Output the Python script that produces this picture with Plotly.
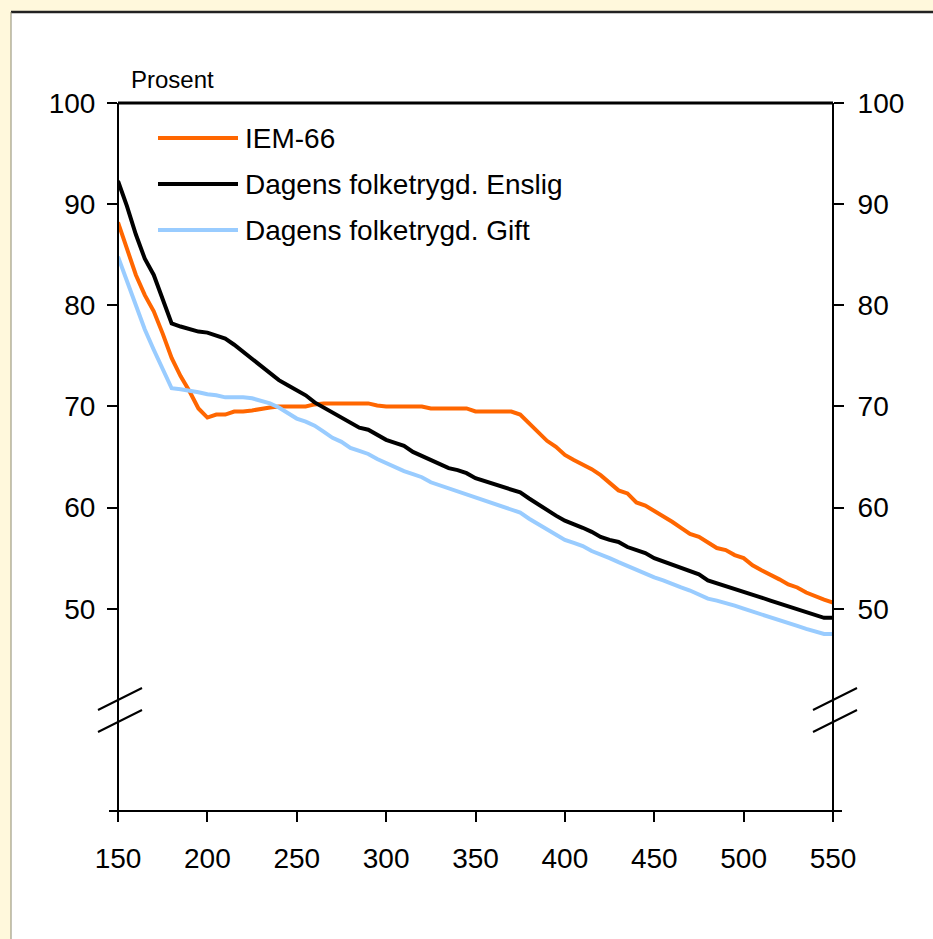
import plotly.graph_objects as go

x_vals = list(range(150, 551, 5))

iem66 = [88.2, 85.5, 83.0, 81.0, 79.4, 77.2, 74.8, 73.0, 71.5, 69.8,
         68.9, 69.2, 69.2, 69.5, 69.5, 69.6, 69.8, 69.9, 70.0, 70.0,
         70.0, 70.0, 70.2, 70.3, 70.3, 70.3, 70.3, 70.3, 70.3, 70.1,
         70.0, 70.0, 70.0, 70.0, 70.0, 69.8, 69.8, 69.8, 69.8, 69.8,
         69.5, 69.5, 69.5, 69.5, 69.5, 69.2, 68.3, 67.5, 66.6, 66.0,
         65.2, 64.7, 64.3, 63.8, 63.2, 62.4, 61.7, 61.4, 60.5, 60.2,
         59.7, 59.2, 58.6, 58.0, 57.4, 57.1, 56.5, 56.0, 55.8, 55.3,
         55.0, 54.3, 53.8, 53.4, 52.9, 52.4, 52.1, 51.6, 51.2, 50.9,
         50.6]

enslig = [92.3, 89.8, 87.0, 84.6, 83.0, 80.5, 78.2, 77.9, 77.6, 77.4,
          77.3, 77.0, 76.7, 76.1, 75.4, 74.7, 74.0, 73.3, 72.6, 72.1,
          71.6, 71.1, 70.4, 69.9, 69.3, 68.9, 68.4, 67.9, 67.7, 67.2,
          66.7, 66.4, 66.1, 65.5, 65.1, 64.8, 64.3, 63.9, 63.7, 63.4,
          62.9, 62.6, 62.3, 62.0, 61.8, 61.5, 60.9, 60.3, 59.7, 59.2,
          58.7, 58.4, 58.0, 57.6, 57.1, 56.8, 56.6, 56.1, 55.8, 55.5,
          55.0, 54.7, 54.4, 54.1, 53.8, 53.4, 52.8, 52.5, 52.2, 52.0,
          51.7, 51.4, 51.1, 50.8, 50.5, 50.2, 50.0, 49.7, 49.4, 49.1,
          49.1]

gift = [84.8, 82.4, 80.0, 77.6, 75.6, 73.8, 71.8, 71.7, 71.6, 71.4,
        71.2, 71.1, 70.9, 70.9, 70.9, 70.8, 70.6, 70.3, 69.9, 69.4,
        68.8, 68.5, 68.1, 67.5, 66.9, 66.5, 65.9, 65.6, 65.3, 64.8,
        64.4, 63.9, 63.6, 63.3, 63.0, 62.5, 62.2, 61.9, 61.6, 61.3,
        60.9, 60.6, 60.3, 60.0, 59.8, 59.5, 58.9, 58.4, 57.8, 57.3,
        56.8, 56.5, 56.2, 55.7, 55.4, 55.0, 54.6, 54.2, 53.9, 53.5,
        53.1, 52.8, 52.4, 52.1, 51.8, 51.4, 51.0, 50.8, 50.6, 50.3,
        50.0, 49.7, 49.4, 49.1, 48.8, 48.5, 48.3, 48.0, 47.7, 47.5,
        47.5]

series_names = ["IEM-66", "Dagens folketrygd. Enslig", "Dagens folketrygd. Gift"]
series_colors = ["#FF6600", "#000000", "#99CCFF"]
x_ticks = [150, 200, 250, 300, 350, 400, 450, 500, 550]
y_ticks = [50, 60, 70, 80, 90, 100]

FONT = "Liberation Sans, Arial, sans-serif"
FRAME_BG = "#FFF8DC"
W, H = 933, 939
# plot area in page pixels
L, R, T, B = 118, 833, 103, 811


def px(xp):
    return (xp - L) / (R - L)


def py(yp):
    return (B - yp) / (B - T)


fig = go.Figure()
for name, ys, col in zip(series_names, [iem66, enslig, gift], series_colors):
    fig.add_trace(go.Scatter(x=x_vals, y=ys, mode="lines", name=name,
                             line=dict(color=col, width=4), showlegend=False))
# invisible trace for right axis
fig.add_trace(go.Scatter(x=[x_vals[0]], y=[enslig[0]], yaxis="y2", mode="lines",
                         line=dict(width=0), showlegend=False, hoverinfo="skip"))

shapes = []
# frame background
shapes.append(dict(type="rect", xref="paper", yref="paper", x0=px(11), x1=px(950),
                   y0=py(12), y1=py(960), fillcolor="white", line=dict(width=0), layer="below"))
shapes.append(dict(type="line", xref="paper", yref="paper", x0=px(11), x1=px(950),
                   y0=py(12), y1=py(12), line=dict(color="#222222", width=2.5)))
shapes.append(dict(type="line", xref="paper", yref="paper", x0=px(11), x1=px(11),
                   y0=py(12), y1=py(960), line=dict(color="#8C8A70", width=1)))

ax = dict(color="black", width=2)
# axis lines with break
for xa in (L, R):
    shapes.append(dict(type="line", xref="paper", yref="paper", x0=px(xa), x1=px(xa),
                       y0=py(B), y1=py(700), line=ax))
    shapes.append(dict(type="line", xref="paper", yref="paper", x0=px(xa), x1=px(xa),
                       y0=py(722), y1=py(T), line=ax))
shapes.append(dict(type="line", xref="paper", yref="paper", x0=px(L), x1=px(R),
                   y0=py(T), y1=py(T), line=dict(color="black", width=3)))
shapes.append(dict(type="line", xref="paper", yref="paper", x0=px(109), x1=px(842),
                   y0=py(B), y1=py(B), line=ax))
# break marks
for xa in (L, R):
    for off in (0, 22):
        shapes.append(dict(type="line", xref="paper", yref="paper",
                           x0=px(xa - 20), x1=px(xa + 24),
                           y0=py(710 + off), y1=py(688 + off), line=ax))

annotations = [dict(text="Prosent", xref="paper", yref="paper", x=px(129), y=py(80),
                    xanchor="left", yanchor="middle", showarrow=False,
                    font=dict(family=FONT, size=24, color="black"))]

# custom legend
leg_y = [138, 184, 230]
for name, col, yy in zip(series_names, series_colors, leg_y):
    shapes.append(dict(type="line", xref="paper", yref="paper", x0=px(158), x1=px(238),
                       y0=py(yy), y1=py(yy), line=dict(color=col, width=4)))
    annotations.append(dict(text=name, xref="paper", yref="paper", x=px(243), y=py(yy),
                            xanchor="left", yanchor="middle", showarrow=False,
                            font=dict(family=FONT, size=28, color="black")))

yax_common = dict(range=[30, 100], tickvals=y_ticks, ticks="outside", ticklen=10,
                  tickwidth=2, tickcolor="black", showgrid=False, zeroline=False,
                  showline=False, tickfont=dict(family=FONT, size=28, color="black"))

fig.update_layout(
    width=W, height=H,
    margin=dict(l=L, r=W - R, t=T, b=H - B, pad=0),
    paper_bgcolor=FRAME_BG,
    plot_bgcolor="rgba(0,0,0,0)",
    showlegend=False,
    xaxis=dict(range=[150, 550], tickvals=x_ticks, ticks="outside", ticklen=10,
               tickwidth=2, tickcolor="black", showgrid=False, zeroline=False,
               showline=False, ticklabelstandoff=12,
               tickfont=dict(family=FONT, size=28, color="black")),
    yaxis=dict(**yax_common, ticklabelstandoff=6),
    yaxis2=dict(**yax_common, overlaying="y", side="right", ticklabelstandoff=8),
    shapes=shapes,
    annotations=annotations,
)

fig.write_html(
    "out.html",
    config={"displayModeBar": False},
    post_script=("document.body.style.margin='0';"
                 "document.body.style.overflow='hidden';"
                 "document.body.style.background='%s';" % FRAME_BG),
)
